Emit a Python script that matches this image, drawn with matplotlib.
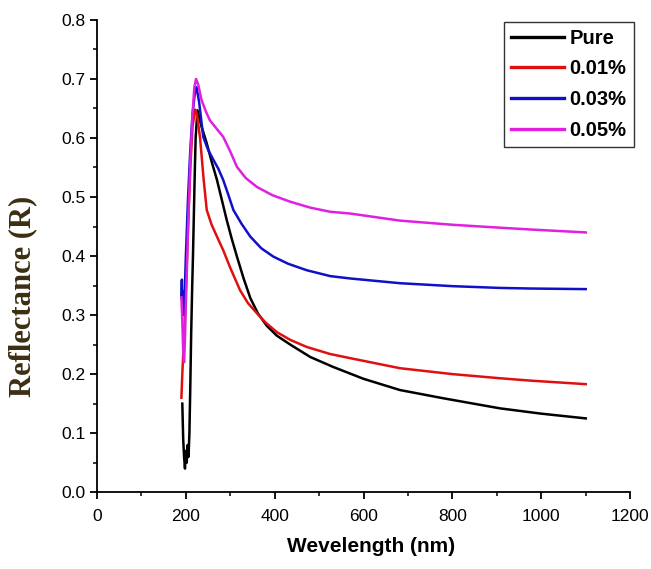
import matplotlib
matplotlib.use("Agg")
import matplotlib.pyplot as plt
from matplotlib.ticker import MultipleLocator, FormatStrFormatter

# reflectance spectra
pure_wl = [192, 194, 196, 198, 200, 202, 204, 206, 208, 210, 212, 214, 216, 218, 220, 222, 226, 235,
           247, 258, 270, 281, 292, 303, 315, 330, 345, 362, 382, 405, 435, 480, 532, 600, 682,
           780, 907, 1000, 1100]
pure_r = [0.15, 0.09, 0.06, 0.04, 0.07, 0.05, 0.08, 0.06, 0.10, 0.18, 0.27, 0.34, 0.40, 0.47, 0.54,
          0.60, 0.647, 0.62, 0.591, 0.56, 0.529, 0.495, 0.461, 0.43, 0.399, 0.362, 0.329, 0.303,
          0.282, 0.265, 0.25, 0.229, 0.212, 0.192, 0.173, 0.159, 0.142, 0.133, 0.125]

r01_wl = [190, 192, 195, 198, 201, 205, 210, 215, 221, 225, 232, 240, 247, 258, 270, 284, 300, 322,
          340, 360, 380, 405, 435, 472, 525, 570, 682, 800, 907, 975, 1100]
r01_r = [0.16, 0.20, 0.25, 0.30, 0.36, 0.45, 0.55, 0.62, 0.648, 0.64, 0.60, 0.53, 0.478, 0.453,
         0.433, 0.41, 0.38, 0.342, 0.32, 0.303, 0.287, 0.271, 0.258, 0.246, 0.234, 0.227, 0.21,
         0.20, 0.193, 0.189, 0.183]

r03_wl = [190, 191, 192, 194, 196, 198, 200, 205, 210, 215, 220, 224, 230, 239, 250, 262, 273, 284,
          295, 307, 325, 345, 370, 397, 430, 472, 525, 570, 682, 800, 907, 975, 1100]
r03_r = [0.33, 0.36, 0.31, 0.34, 0.30, 0.35, 0.40, 0.50, 0.58, 0.64, 0.675, 0.686, 0.66, 0.602,
         0.58, 0.563, 0.548, 0.529, 0.505, 0.478, 0.455, 0.433, 0.413, 0.399, 0.387, 0.376, 0.366,
         0.362, 0.354, 0.349, 0.346, 0.345, 0.344]

r05_wl = [190, 192, 194, 196, 198, 200, 205, 210, 215, 219, 223, 228, 235, 245, 254, 270, 284, 300,
          315, 335, 360, 395, 435, 480, 525, 570, 682, 800, 907, 975, 1100]
r05_r = [0.33, 0.29, 0.24, 0.22, 0.26, 0.32, 0.45, 0.56, 0.64, 0.685, 0.70, 0.69, 0.665, 0.645,
         0.63, 0.615, 0.602, 0.577, 0.551, 0.532, 0.517, 0.503, 0.492, 0.482, 0.475, 0.472, 0.46,
         0.453, 0.448, 0.445, 0.44]

series = [
    (pure_wl, pure_r, "Pure", "black"),
    (r01_wl, r01_r, "0.01%", "#e01010"),
    (r03_wl, r03_r, "0.03%", "#1010c8"),
    (r05_wl, r05_r, "0.05%", "#e020e0"),
]

plt.rcParams['font.family'] = ['Liberation Sans', 'DejaVu Sans']

fig = plt.figure(figsize=(6.51, 5.69), dpi=100)
ax = fig.add_axes([0.149, 0.135, 0.819, 0.830])

for wl, r, name, col in series:
    ax.plot(wl, r, color=col, lw=1.8, label=name)

ax.set_xlim(0, 1200)
ax.set_ylim(0, 0.8)
ax.xaxis.set_major_locator(MultipleLocator(200))
ax.xaxis.set_minor_locator(MultipleLocator(100))
ax.yaxis.set_major_locator(MultipleLocator(0.1))
ax.yaxis.set_minor_locator(MultipleLocator(0.05))
ax.yaxis.set_major_formatter(FormatStrFormatter('%.1f'))

for s in ['top', 'right']:
    ax.spines[s].set_visible(False)
for s in ['left', 'bottom']:
    ax.spines[s].set_linewidth(1.3)
ax.tick_params(which='major', direction='out', length=5, width=1.3, labelsize=12.5)
ax.tick_params(axis='x', which='major', pad=7)
ax.tick_params(which='minor', direction='out', length=3, width=1.1)

ax.set_xlabel("Wevelength (nm)", fontsize=15, fontweight='bold')
ax.xaxis.set_label_coords(0.514, -0.095)
ax.set_ylabel("Reflectance (R)", fontsize=22, fontweight='bold', family='Liberation Serif',
              color='#3b2e12')
ax.yaxis.set_label_coords(-0.113, 0.415)

leg = ax.legend(loc='upper right', bbox_to_anchor=(1.014, 1.005), frameon=True, fancybox=False,
                prop={'weight': 'bold', 'size': 14.5}, handlelength=2.6, handletextpad=0.3,
                labelspacing=0.58, borderpad=0.35, borderaxespad=0.2)
leg.get_frame().set_edgecolor('black')
leg.get_frame().set_linewidth(1.0)
for line in leg.get_lines():
    line.set_linewidth(2.4)

fig.savefig("out.png", dpi=100)
